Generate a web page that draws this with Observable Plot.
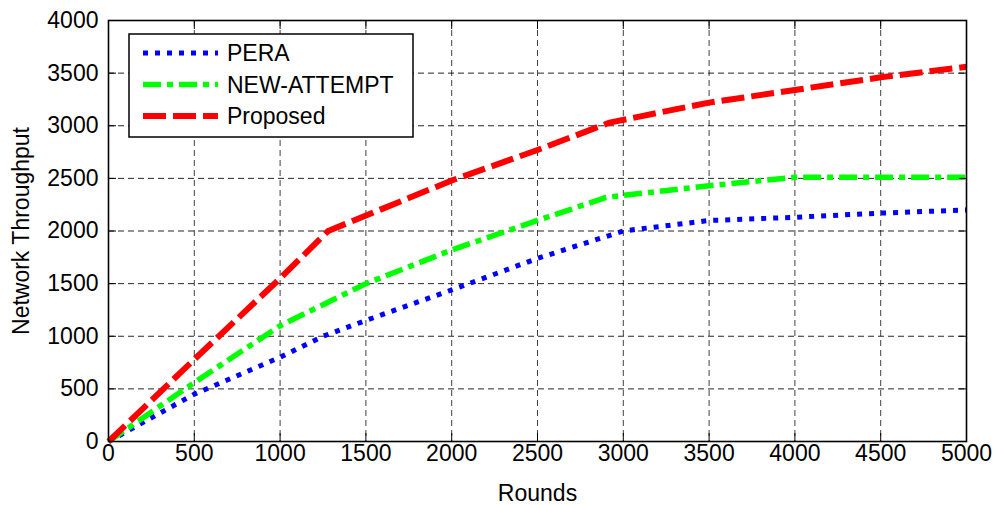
<!DOCTYPE html>
<html>
<head>
<meta charset="utf-8">
<script src="https://cdn.jsdelivr.net/npm/d3@7"></script>
<script src="https://cdn.jsdelivr.net/npm/@observablehq/plot@0.6"></script>
<style>
  html, body { margin: 0; padding: 0; background: #fff; }
  #chart svg { display: block; }
</style>
</head>
<body>
<div id="chart"></div>
<script>
// ---- data ----
const seriesNames = ["PERA", "NEW-ATTEMPT", "Proposed"];

const peraRounds = [0, 500, 1000, 1250, 1500, 2000, 2500, 3000, 3500, 4000, 4500, 5000];
const peraValues = [0, 450, 800, 1000, 1150, 1440, 1740, 2000, 2100, 2130, 2170, 2200];

const newRounds = [0, 500, 1000, 1500, 2000, 2500, 2900, 3500, 4000, 4500, 5000];
const newValues = [0, 560, 1100, 1500, 1820, 2100, 2320, 2430, 2510, 2510, 2510];

const propRounds = [0, 500, 1000, 1280, 2000, 2500, 2920, 3500, 4000, 4500, 5000];
const propValues = [0, 780, 1550, 2000, 2480, 2770, 3030, 3220, 3340, 3460, 3560];

const xTicks = [0, 500, 1000, 1500, 2000, 2500, 3000, 3500, 4000, 4500, 5000];
const yTicks = [0, 500, 1000, 1500, 2000, 2500, 3000, 3500, 4000];

const xLabel = "Rounds";
const yLabel = "Network Throughput";

// ---- build tables ----
const toRows = (xs, ys, name) => xs.map((x, i) => ({rounds: x, value: ys[i], series: name}));
const pera = toRows(peraRounds, peraValues, seriesNames[0]);
const newAtt = toRows(newRounds, newValues, seriesNames[1]);
const prop = toRows(propRounds, propValues, seriesNames[2]);

const styles = [
  {name: seriesNames[0], stroke: "#0000ff", strokeWidth: 5, dash: "5,7"},
  {name: seriesNames[1], stroke: "#00ff00", strokeWidth: 5.5, dash: "18,6,6,6"},
  {name: seriesNames[2], stroke: "#ff0000", strokeWidth: 6, dash: "23,7"}
];

const font = "'Liberation Sans', Arial, Helvetica, sans-serif";
const fs = 23;
const fmt = d => String(d);

const chart = Plot.plot({
  width: 994,
  height: 505,
  marginLeft: 108,
  marginRight: 28,
  marginTop: 20,
  marginBottom: 64,
  style: {fontFamily: font, fontSize: fs + "px", color: "#000", background: "#fff"},
  x: {domain: [0, 5000]},
  y: {domain: [0, 4000]},
  marks: [
    Plot.gridX(xTicks, {stroke: "#000", strokeOpacity: 0.75, strokeWidth: 1, strokeDasharray: "6,4"}),
    Plot.gridY(yTicks, {stroke: "#000", strokeOpacity: 0.85, strokeWidth: 1, strokeDasharray: "6,4"}),
    Plot.line(pera, {x: "rounds", y: "value", stroke: styles[0].stroke, strokeWidth: styles[0].strokeWidth, strokeDasharray: styles[0].dash, strokeLinecap: "butt"}),
    Plot.line(newAtt, {x: "rounds", y: "value", stroke: styles[1].stroke, strokeWidth: styles[1].strokeWidth, strokeDasharray: styles[1].dash, strokeLinecap: "butt"}),
    Plot.line(prop, {x: "rounds", y: "value", stroke: styles[2].stroke, strokeWidth: styles[2].strokeWidth, strokeDasharray: styles[2].dash, strokeLinecap: "butt"}),
    Plot.frame({stroke: "#000", strokeWidth: 1.6}),
    Plot.axisX(xTicks, {anchor: "bottom", tickSize: -8, tickPadding: 11, tickFormat: fmt, label: xLabel, labelArrow: "none", labelAnchor: "center", labelOffset: 59, fontSize: fs}),
    Plot.axisX(xTicks, {anchor: "top", tickSize: -8, tickFormat: () => "", label: null}),
    Plot.axisY(yTicks, {anchor: "left", tickSize: -8, tickPadding: 18, tickFormat: fmt, label: yLabel, labelArrow: "none", labelAnchor: "center", labelOffset: 96, fontSize: fs}),
    Plot.axisY(yTicks, {anchor: "right", tickSize: -8, tickFormat: () => "", label: null})
  ]
});

document.getElementById("chart").appendChild(chart);

// ---- legend (inside plot, top-left) ----
const svg = d3.select(chart);
const lg = svg.append("g").attr("class", "legend");
const box = {x: 129, y: 34, w: 284, h: 103};
lg.append("rect")
  .attr("x", box.x).attr("y", box.y).attr("width", box.w).attr("height", box.h)
  .attr("fill", "#fff").attr("stroke", "#000").attr("stroke-width", 1.5);
const rowY = [53, 84.5, 116];
styles.forEach((s, i) => {
  lg.append("line")
    .attr("x1", 143).attr("x2", 218).attr("y1", rowY[i]).attr("y2", rowY[i])
    .attr("stroke", s.stroke).attr("stroke-width", s.strokeWidth)
    .attr("stroke-dasharray", s.dash);
  lg.append("text")
    .attr("x", 227).attr("y", rowY[i]).attr("dy", "0.36em")
    .attr("text-anchor", "start")
    .attr("font-family", font).attr("font-size", fs).attr("fill", "#000")
    .text(s.name);
});
</script>
</body>
</html>
